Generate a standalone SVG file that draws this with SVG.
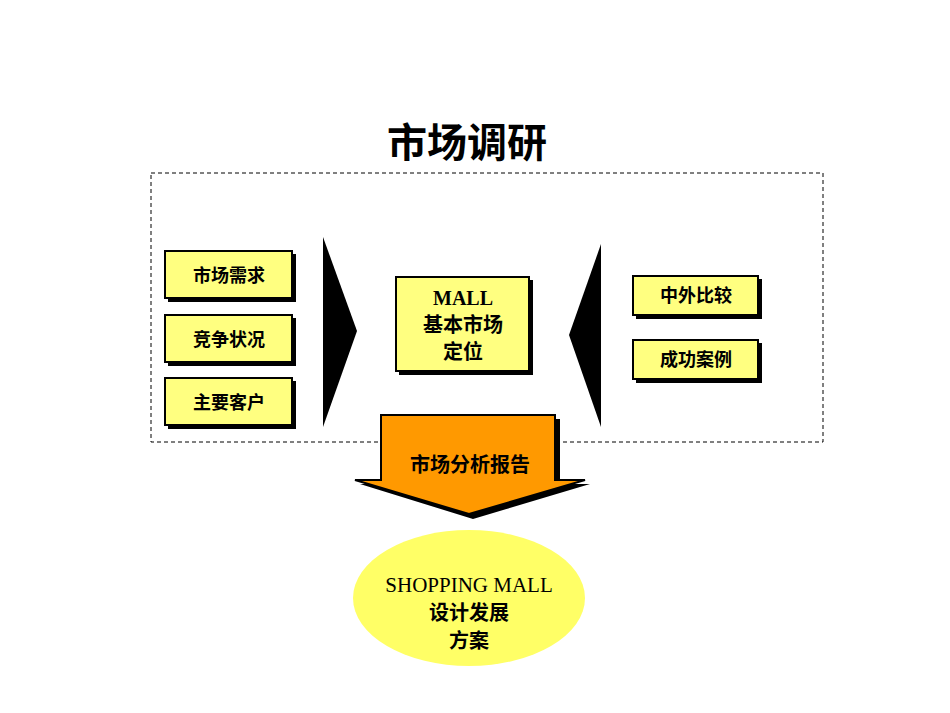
<svg xmlns="http://www.w3.org/2000/svg" width="950" height="713" viewBox="0 0 950 713">
<style>
.t{font-family:"Liberation Serif","Noto Sans CJK SC",serif;font-weight:bold;fill:#000;text-anchor:middle}
.b{fill:#ffff80;stroke:#000;stroke-width:2}
.s{fill:#000}
</style>
<rect width="950" height="713" fill="#fff"/>
<text class="t" x="467" y="157" font-size="40">市场调研</text>
<rect x="151" y="173" width="672" height="269" fill="none" stroke="#000" stroke-width="1" stroke-dasharray="4,3"/>
<g id="n1"><rect class="s" x="168" y="254" width="128" height="48"/><rect class="b" x="165" y="251" width="127" height="47"/><text class="t" x="229" y="282" font-size="18">市场需求</text></g>
<g id="n2"><rect class="s" x="168" y="318" width="128" height="48"/><rect class="b" x="165" y="315" width="127" height="47"/><text class="t" x="229" y="346" font-size="18">竞争状况</text></g>
<g id="n3"><rect class="s" x="168" y="381" width="128" height="48"/><rect class="b" x="165" y="378" width="127" height="47"/><text class="t" x="229" y="409" font-size="18">主要客户</text></g>
<g id="n4"><rect class="s" x="399" y="280" width="134" height="95"/><rect class="b" x="396" y="277" width="133" height="94"/><text class="t" x="463" y="305" font-size="20">MALL</text><text class="t" x="463" y="332" font-size="20">基本市场</text><text class="t" x="463" y="359" font-size="20">定位</text></g>
<g id="n5"><rect class="s" x="636" y="279" width="126" height="40"/><rect class="b" x="633" y="276" width="125" height="39"/><text class="t" x="696" y="302" font-size="18">中外比较</text></g>
<g id="n6"><rect class="s" x="636" y="343" width="126" height="40"/><rect class="b" x="633" y="340" width="125" height="39"/><text class="t" x="696" y="366" font-size="18">成功案例</text></g>
<g id="connectors">
<polygon points="323,237 357,331 323,427" fill="#000"/>
<polygon points="601,244 569,335 601,427" fill="#000"/>
<g id="report">
<polygon points="385,419 560,419 560,484 590,484 473,519 360,484 385,484" fill="#000"/>
<polygon points="381,415 555,415 555,480 585,480 469,514 355,480 381,480" fill="#ff9900" stroke="#000" stroke-width="2"/>
<text class="t" x="470" y="472" font-size="20">市场分析报告</text>
</g>
</g>
<g id="n7"><ellipse cx="469" cy="598" rx="116" ry="68" fill="#ffff66"/><text class="t" x="469" y="592" font-size="21" font-weight="normal" style="font-weight:normal">SHOPPING MALL</text><text class="t" x="469" y="620" font-size="20">设计发展</text><text class="t" x="469" y="648" font-size="20">方案</text></g>
</svg>
